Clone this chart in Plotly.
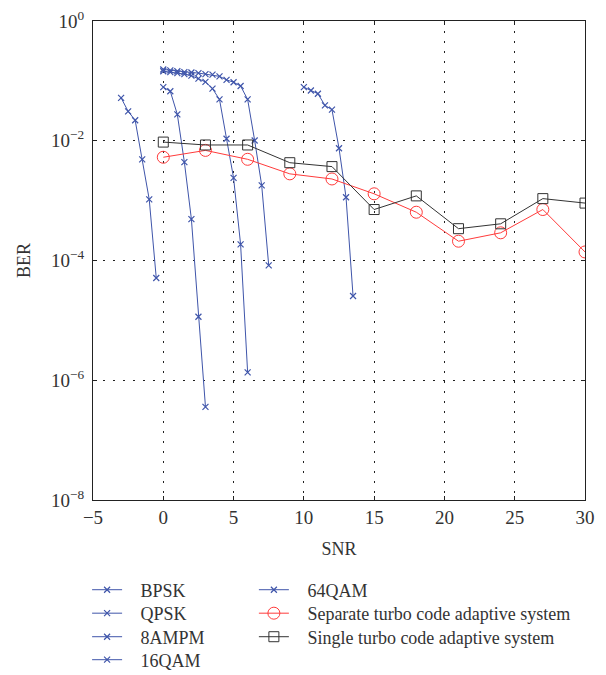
import plotly.graph_objects as go

# ---- data ----
bpsk_snr = [-3, -2.5, -2, -1.5, -1, -0.5]
bpsk_ber = [0.052, 0.031, 0.022, 0.0049, 0.00105, 5.1e-5]

qpsk_snr = [0, 0.5, 1, 1.5, 2, 2.5, 3]
qpsk_ber = [0.0785, 0.067, 0.0275, 0.0044, 4.9e-4, 1.15e-5, 3.6e-7]

ampm8_snr = [0, 0.5, 1, 1.5, 2, 2.5, 3, 3.5, 4, 4.5, 5, 5.5, 6]
ampm8_ber = [0.145, 0.14, 0.135, 0.13, 0.122, 0.109, 0.096, 0.074, 0.049, 0.0108, 0.0024, 1.86e-4, 1.35e-6]

qam16_snr = [0, 0.5, 1, 1.5, 2, 2.5, 3, 3.5, 4, 4.5, 5, 5.5, 6, 6.5, 7, 7.5]
qam16_ber = [0.155, 0.15, 0.145, 0.14, 0.138, 0.135, 0.13, 0.127, 0.119, 0.104, 0.095, 0.082, 0.049, 0.0101, 0.0018, 8.3e-5]

qam64_snr = [10, 10.5, 11, 11.5, 12, 12.5, 13, 13.5]
qam64_ber = [0.0785, 0.069, 0.061, 0.039, 0.033, 0.0075, 0.00114, 2.55e-5]

turbo_snr = [0, 3, 6, 9, 12, 15, 18, 21, 24, 27, 30]
separate_ber = [0.0053, 0.0069, 0.0049, 0.0028, 0.0023, 0.0013, 6.4e-4, 2.1e-4, 2.9e-4, 7.1e-4, 1.39e-4]
single_ber = [0.0095, 0.0085, 0.0085, 0.0043, 0.0037, 7.1e-4, 0.0012, 3.4e-4, 4.1e-4, 0.00108, 9.1e-4]

y_tickvals = [1, 1e-2, 1e-4, 1e-6, 1e-8]
y_ticktext = ["10<sup>0</sup>", "10<sup>−2</sup>", "10<sup>−4</sup>", "10<sup>−6</sup>", "10<sup>−8</sup>"]
x_tickvals = [-5, 0, 5, 10, 15, 20, 25, 30]
x_ticktext = ["−5", "0", "5", "10", "15", "20", "25", "30"]

BLUE = "#3f55aa"
FONT = "Liberation Serif"
PAD = "\u00a0\u00a0\u00a0"

fig = go.Figure()

def modulation(name, x, y, legend):
    fig.add_trace(go.Scatter(
        x=x, y=y, name=PAD + name, mode="lines+markers", legend=legend,
        line=dict(color=BLUE, width=1),
        marker=dict(symbol="x-thin", size=6, line=dict(color=BLUE, width=1.2), color=BLUE),
    ))

modulation("BPSK", bpsk_snr, bpsk_ber, "legend")
modulation("QPSK", qpsk_snr, qpsk_ber, "legend2")
modulation("8AMPM", ampm8_snr, ampm8_ber, "legend3")
modulation("16QAM", qam16_snr, qam16_ber, "legend4")
modulation("64QAM", qam64_snr, qam64_ber, "legend5")

fig.add_trace(go.Scatter(
    x=turbo_snr, y=separate_ber, name=PAD + "Separate turbo code adaptive system",
    mode="lines+markers", legend="legend6",
    line=dict(color="#ff3b3b", width=1),
    marker=dict(symbol="circle-open", size=12, color="#ff3b3b", line=dict(width=1)),
))
fig.add_trace(go.Scatter(
    x=turbo_snr, y=single_ber, name=PAD + "Single turbo code adaptive system",
    mode="lines+markers", legend="legend7",
    line=dict(color="#333333", width=1),
    marker=dict(symbol="square-open", size=10, color="#333333", line=dict(width=1)),
))

legend_common = dict(
    font=dict(family=FONT, size=18, color="#333333"),
    bgcolor="rgba(0,0,0,0)", orientation="v", yanchor="top", xanchor="left",
)
col1_x, col2_x = -0.012, 0.327
row_y = [-0.1493, -0.1983, -0.2474, -0.2954]

GRID_DASH = "2px,8px"

fig.update_layout(
    width=606, height=675,
    margin=dict(l=93, r=21, t=21, b=175, autoexpand=False),
    paper_bgcolor="white", plot_bgcolor="white",
    font=dict(family=FONT, size=15, color="#333333"),
    showlegend=True,
    legend=dict(x=col1_x, y=row_y[0], **legend_common),
    legend2=dict(x=col1_x, y=row_y[1], **legend_common),
    legend3=dict(x=col1_x, y=row_y[2], **legend_common),
    legend4=dict(x=col1_x, y=row_y[3], **legend_common),
    legend5=dict(x=col2_x, y=row_y[0], **legend_common),
    legend6=dict(x=col2_x, y=row_y[1], **legend_common),
    legend7=dict(x=col2_x, y=row_y[2], **legend_common),
    xaxis=dict(
        range=[-5, 30], tickvals=x_tickvals, ticktext=x_ticktext,
        showgrid=True, gridcolor="#222222", griddash=GRID_DASH, gridwidth=1.3,
        showline=True, linecolor="#222222", linewidth=1, mirror="ticks",
        ticks="inside", ticklen=4, tickcolor="#222222", zeroline=False,
        title=dict(text="SNR", font=dict(family=FONT, size=18), standoff=15),
        tickfont=dict(family=FONT, size=19),
    ),
    yaxis=dict(
        type="log", range=[-8, 0], tickvals=y_tickvals, ticktext=y_ticktext,
        showgrid=True, gridcolor="#222222", griddash=GRID_DASH, gridwidth=1.3,
        showline=True, linecolor="#222222", linewidth=1, mirror="ticks",
        ticks="inside", ticklen=4, tickcolor="#222222", zeroline=False,
        title=dict(text="BER", font=dict(family=FONT, size=18), standoff=15),
        tickfont=dict(family=FONT, size=19), ticklabelstandoff=4,
    ),
)

fig.write_html("out.html", config={"displayModeBar": False},
               post_script="document.body.style.margin='0px';")
